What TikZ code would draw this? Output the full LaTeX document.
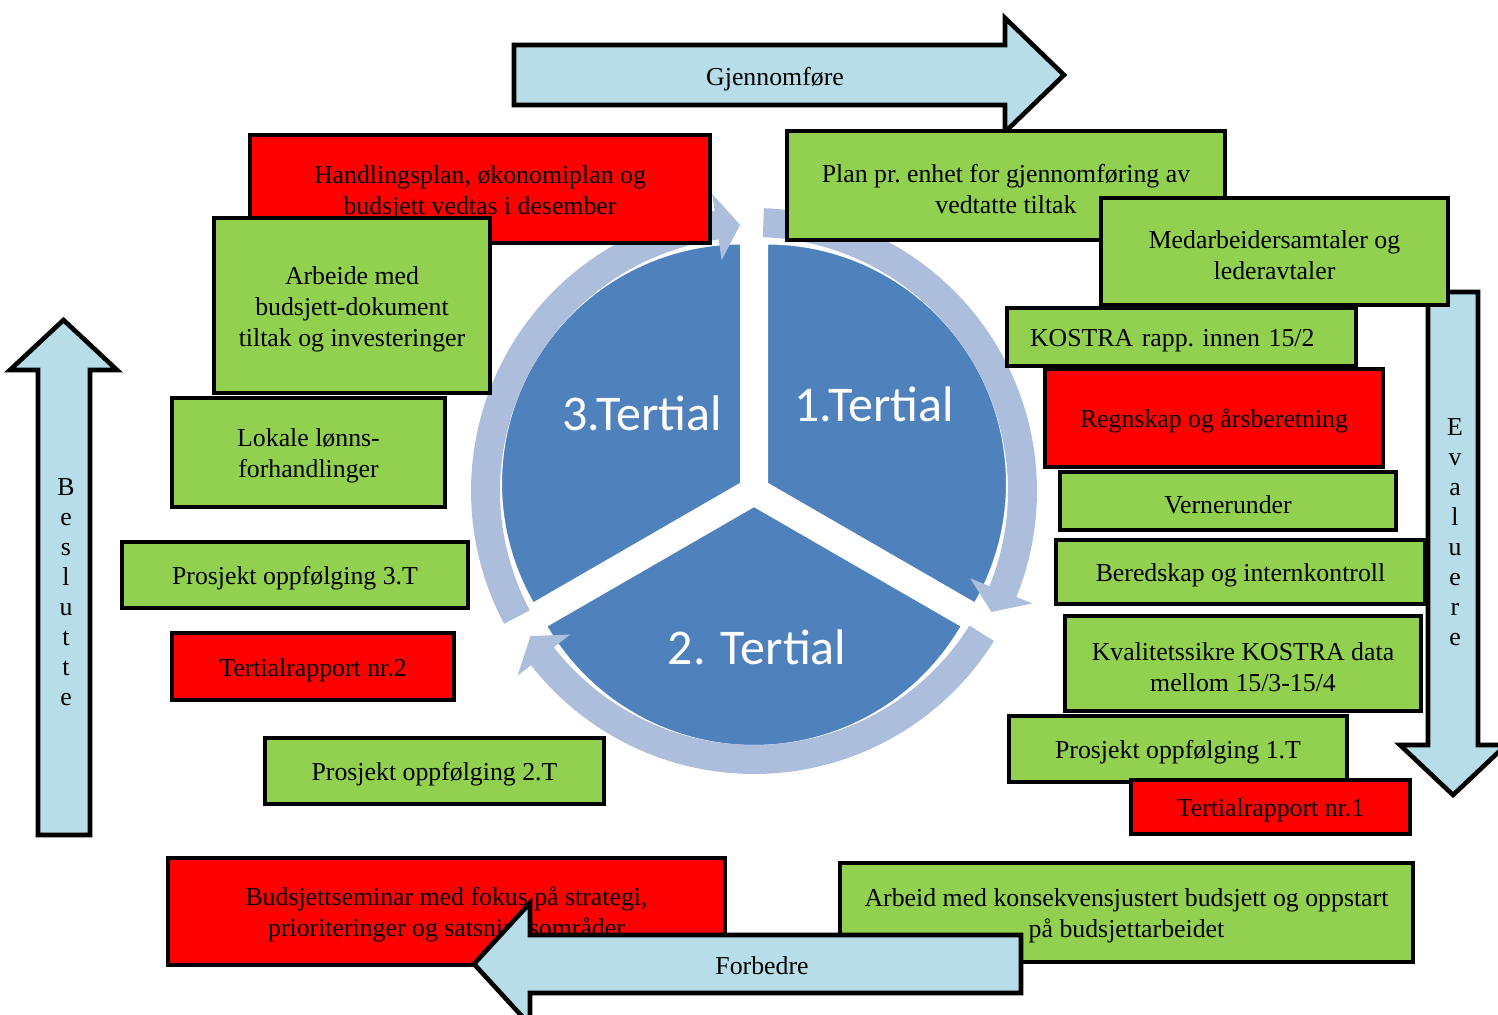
\documentclass[tikz,border=0pt]{standalone}
\usepackage{fontspec}
\setmainfont{Liberation Serif}
\newfontfamily\pielabelfont{Carlito}
\definecolor{boxred}{RGB}{255,0,0}
\definecolor{boxgreen}{RGB}{146,208,80}
\definecolor{arrowblue}{RGB}{183,222,232}
\definecolor{sliceblue}{RGB}{79,129,189}
\definecolor{ringblue}{RGB}{172,190,220}
\newcommand\bxfont{\fontsize{12.9}{15.5}\selectfont\frenchspacing}
\newcommand\topstrut{\rule{0pt}{12.6pt}}
\begin{document}
\begin{tikzpicture}[x=0.5pt,y=-0.5pt,
  box/.style={draw=black,line width=2pt,align=center,inner sep=0pt,font=\bxfont},
  rbox/.style={box,fill=boxred},
  gbox/.style={box,fill=boxgreen},
  barrow/.style={draw=black,line width=2.3pt,fill=arrowblue,line join=miter},
  slicepart/.style={fill=sliceblue,draw=white,line width=1pt},
  ringarrow/.style={fill=ringblue},
  pielabel/.style={text=white,inner sep=0pt,font=\pielabelfont\fontsize{25}{29}\selectfont},
  vlabel/.style={align=center,font=\fontsize{12.9}{15}\selectfont,inner sep=0pt},
  alabel/.style={font=\bxfont,inner sep=0pt}]
\useasboundingbox (0,0) rectangle (1498,1015);
\clip (0,0) rectangle (1498,1015);

% ---------- pie with circular arrows ----------
\begin{scope}[shift={(754,491)},yscale=-1]
  \begin{scope}[shift={(30:15)}]
    \path[slicepart] (0,0) -- plot[domain=90:-30,samples=90] (\x:240) -- cycle;
  \end{scope}
  \begin{scope}[shift={(-90:15)}]
    \path[slicepart] (0,0) -- plot[domain=-30:-150,samples=90] (\x:240) -- cycle;
  \end{scope}
  \begin{scope}[shift={(150:15)}]
    \path[slicepart] (0,0) -- plot[domain=-150:-270,samples=90] (\x:240) -- cycle;
  \end{scope}
  \foreach \s in {88,-32,-152} {
    \pgfmathsetmacro\headb{\s-110}
    \pgfmathsetmacro\headt{\s-115}
    \path[ringarrow] plot[domain=\s:\headb,samples=90] (\x:283)
      -- (\headb:300) -- (\headt:266.5) -- (\headb:233)
      -- plot[domain=\headb:\s,samples=90] (\x:254) -- cycle;
  }
\end{scope}
\node[pielabel] (t3) at (642,413) {3.Tertial};
\node[pielabel] (t1) at (874,404) {1.Tertial};
\node[pielabel] (t2) at (757,647) {2. Tertial};

% ---------- block arrows (behind boxes) ----------
\path[barrow] (514,45) -- (1005,45) -- (1005,18) -- (1064,75) -- (1005,132) -- (1005,105) -- (514,105) -- cycle;
\node[alabel] (gjen) at (775,79) {Gjennomføre};

\path[barrow] (38,835) -- (38,370) -- (10,370) -- (63.5,320) -- (117,370) -- (90,370) -- (90,835) -- cycle;
\node[vlabel] (besl) at (66,592) {B\\e\\s\\l\\u\\t\\t\\e};

\path[barrow] (1428,292) -- (1478,292) -- (1478,745) -- (1506,745) -- (1453,795) -- (1400,745) -- (1428,745) -- cycle;
\node[vlabel] (eval) at (1455,532) {E\\v\\a\\l\\u\\e\\r\\e};

% ---------- left boxes ----------
\node[rbox,minimum width=230pt,minimum height=54pt] (handling) at (480,189) {\topstrut Handlingsplan, økonomiplan og\\budsjett vedtas i desember};
\node[gbox,minimum width=138pt,minimum height=87.5pt] (arbeide) at (352,305.5) {\topstrut Arbeide med\\budsjett-dokument\\tiltak og investeringer};
\node[gbox,minimum width=136.5pt,minimum height=54.5pt] (lokale) at (308.5,452.5) {\topstrut Lokale lønns-\\forhandlinger};
\node[gbox,minimum width=173pt,minimum height=33pt] (pro3) at (295,575) {\topstrut Prosjekt oppfølging 3.T};
\node[rbox,minimum width=141pt,minimum height=33.5pt] (ter2) at (313,666.5) {\topstrut Tertialrapport nr.2};
\node[gbox,minimum width=169.5pt,minimum height=33pt] (pro2) at (434.5,771) {\topstrut Prosjekt oppfølging 2.T};
\node[rbox,minimum width=278.5pt,minimum height=53.5pt] (seminar) at (446.5,911.5) {\topstrut Budsjettseminar med fokus på strategi,\\prioriteringer og satsningsområder};

% ---------- right boxes ----------
\node[gbox,minimum width=286.5pt,minimum height=49.5pt] (konsek) at (1126.5,912.5) {\topstrut Arbeid med konsekvensjustert budsjett og oppstart\\på budsjettarbeidet};
\node[gbox,minimum width=219pt,minimum height=54.5pt] (plan) at (1006,185.5) {\topstrut Plan pr. enhet for gjennomføring av\\vedtatte tiltak};
\node[gbox,minimum width=173.5pt,minimum height=53.5pt] (medarb) at (1274.5,251.5) {\topstrut Medarbeidersamtaler og\\lederavtaler};
\node[gbox,minimum width=174.5pt,minimum height=29pt,text width=151.5pt,align=left,inner xsep=11.5pt] (kostra) at (1181.5,337) {\topstrut KOSTRA rapp. innen 15/2};
\node[rbox,minimum width=169pt,minimum height=49pt] (regnskap) at (1214,418) {\topstrut Regnskap og årsberetning};
\node[gbox,minimum width=168pt,minimum height=29pt] (verne) at (1228,501) {\topstrut Vernerunder};
\node[gbox,minimum width=184.5pt,minimum height=32pt] (bered) at (1240.5,572) {\topstrut Beredskap og internkontroll};
\node[gbox,minimum width=178pt,minimum height=47.5pt] (kval) at (1243,663.5) {\topstrut Kvalitetssikre KOSTRA data\\mellom 15/3-15/4};
\node[gbox,minimum width=169pt,minimum height=33pt] (pro1) at (1178,749) {\topstrut Prosjekt oppfølging 1.T};
\node[rbox,minimum width=139.5pt,minimum height=27pt] (ter1) at (1270.5,807) {\topstrut Tertialrapport nr.1};

% ---------- Forbedre arrow (on top) ----------
\path[barrow] (1021,935) -- (530,935) -- (530,903) -- (474,964) -- (530,1025) -- (530,993) -- (1021,993) -- cycle;
\node[alabel] (forb) at (762,966) {Forbedre};
\end{tikzpicture}
\end{document}
